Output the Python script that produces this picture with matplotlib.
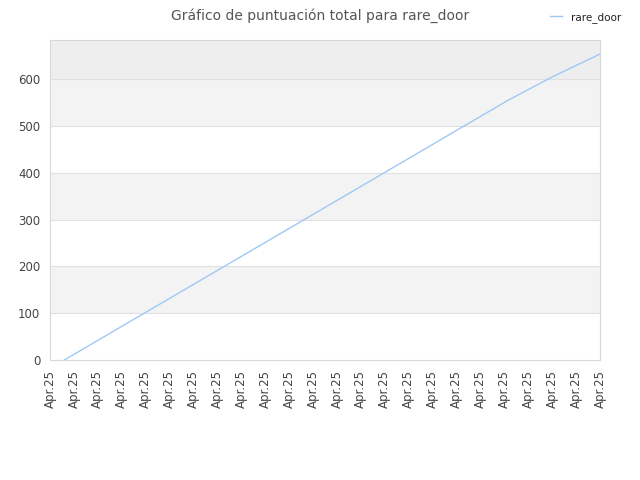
import numpy as np
import matplotlib.pyplot as plt

# datos
dias = [0.6, 19.15, 21.0, 23.0]
puntos = [0, 555, 605, 654]
etiquetas_x = ['Apr.25'] * 24
ticks_y = [0, 100, 200, 300, 400, 500, 600]

fig = plt.figure(figsize=(6.4, 4.8), dpi=100)
ax = fig.add_axes([50 / 640, 120 / 480, 550 / 640, 320 / 480])

ymax = 684
# bandas de fondo
for i, y0 in enumerate(ticks_y):
    y1 = min(y0 + 100, ymax)
    if y0 == 600:
        color = '#eeeeee'
    elif i % 2 == 1 or y0 == 500:
        color = '#f3f3f3'
    else:
        color = '#ffffff'
    ax.axhspan(y0, y1, color=color, zorder=0, lw=0)
for y in ticks_y[1:]:
    ax.axhline(y, color='#e0e0e0', lw=0.8, zorder=1)

ax.plot(dias, puntos, color='#9ec9f5', lw=1, label='rare_door', zorder=3)

ax.set_xlim(0, 23)
ax.set_ylim(0, ymax)
ax.set_xticks(range(24))
ax.set_xticklabels(etiquetas_x, rotation=90, fontsize=8.5, color='#444444')
ax.set_yticks(ticks_y)
ax.set_yticklabels([str(v) for v in ticks_y], fontsize=8.5, color='#444444')
ax.tick_params(length=0, pad=7)
for s in ax.spines.values():
    s.set_color('#d8d8d8')

fig.suptitle('Gráfico de puntuación total para rare_door', fontsize=10, color='#555555', y=0.982)
fig.legend(loc='upper right', bbox_to_anchor=(0.985, 0.995), frameon=False, fontsize=7.5,
           handlelength=1.2, labelcolor='#222222')

fig.savefig('out.png')
